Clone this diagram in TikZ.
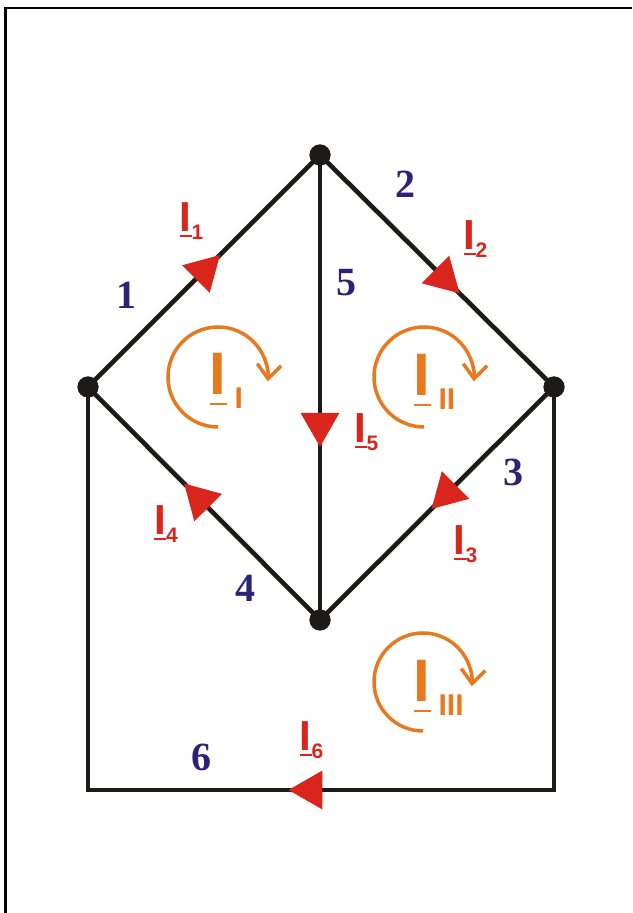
\documentclass[tikz,border=0pt]{standalone}
\usepackage{fontspec}
\setmainfont{Liberation Serif}
\newfontfamily\lsans{Liberation Sans}
\usetikzlibrary{arrows.meta,decorations.markings}
\definecolor{wire}{HTML}{1E1A17}
\definecolor{curred}{HTML}{DA251D}
\definecolor{loopor}{HTML}{E8791E}
\definecolor{navy}{HTML}{2C2378}
\newcommand\ulI[2]{\setbox0\hbox{I}\rlap{\rule[-#1pt]{\wd0}{#2pt}}\box0}
\newcommand\brcur[1]{{\lsans\bfseries\fontsize{42}{42}\selectfont\ulI{5.4}{2.8}\raisebox{-8pt}{\fontsize{21}{21}\selectfont #1}}}
\newcommand\lpcur[1]{{\lsans\bfseries\fontsize{60}{60}\selectfont\ulI{10.4}{2.8}\hspace{8pt}\raisebox{-14pt}{\fontsize{30}{30}\selectfont #1}}}
\tikzset{
  junc/.style={circle,fill=wire,inner sep=0pt,minimum size=21pt},
  wireline/.style={draw=wire,line width=4.6pt},
  redtri/.style={postaction={decorate,decoration={markings,
     mark=at position #1 with {\fill[curred] (17,0) -- (-17,19.5) -- (-17,-19.5) -- cycle;}}}},
  brlab/.style={anchor=base west,inner sep=0pt,text=curred},
  numlab/.style={inner sep=0pt,text=navy,font=\bfseries\fontsize{40}{40}\selectfont},
  looplab/.style={anchor=base west,inner sep=0pt,text=loopor},
  looparc/.style={draw=loopor,line width=3.5pt,-{Straight Barb[length=14pt,width=24pt]}}
}
\begin{document}
\begin{tikzpicture}[x=1pt,y=1pt]
\useasboundingbox (0,0) rectangle (632,913);
% frame
\draw[line width=2.5pt,black] (632,905) -- (5.5,905) -- (5.5,0);
% junctions
\node[junc] (T) at (320,758) {};
\node[junc] (L) at (88,526) {};
\node[junc] (R) at (554,526) {};
\node[junc] (B) at (320,293) {};
\coordinate (cR) at (554,123);
\coordinate (cL) at (88,123);
% branches
\draw[wireline,redtri=0.517] (L.center) -- (T.center);
\draw[wireline,redtri=0.545] (T.center) -- (R.center);
\draw[wireline,redtri=0.591] (T.center) -- (B.center);
\draw[wireline,redtri=0.534] (B.center) -- (L.center);
\draw[wireline,redtri=0.472] (R.center) -- (B.center);
\draw[wireline,redtri=0.5122] (R.center) -- (cR) -- (cL) -- (L.center);
\node[junc] at (T) {};
\node[junc] at (L) {};
\node[junc] at (R) {};
\node[junc] at (B) {};
% branch numbers
\node[numlab] (n1) at (126.5,618) {1};
\node[numlab] (n2) at (405,729) {2};
\node[numlab] (n5) at (346.5,630) {5};
\node[numlab] (n3) at (513,441) {3};
\node[numlab] (n4) at (245,325) {4};
\node[numlab] (n6) at (201,156) {6};
% branch currents
\node[brlab] (i1) at (179.7,681) {\brcur{1}};
\node[brlab] (i2) at (463.7,663) {\brcur{2}};
\node[brlab] (i5) at (354.7,470) {\brcur{5}};
\node[brlab] (i4) at (154.2,378) {\brcur{4}};
\node[brlab] (i3) at (453.7,358) {\brcur{3}};
\node[brlab] (i6) at (299.7,162) {\brcur{6}};
% loop currents
\coordinate (c1) at (218,536);
\coordinate (c2) at (424,536);
\coordinate (c3) at (423,231);
\draw[looparc] (c1) ++(270:50) arc[start angle=270,end angle=-5,radius=50];
\draw[looparc] (c2) ++(270:50) arc[start angle=270,end angle=-5,radius=50];
\draw[looparc] (c3) ++(270:49) arc[start angle=270,end angle=-5,radius=49];
\node[looplab] (l1) at (209.7,518) {\lpcur{I}};
\node[looplab] (l2) at (413.7,517) {\lpcur{II}};
\node[looplab] (l3) at (413.7,211) {\lpcur{III}};
\end{tikzpicture}
\end{document}
